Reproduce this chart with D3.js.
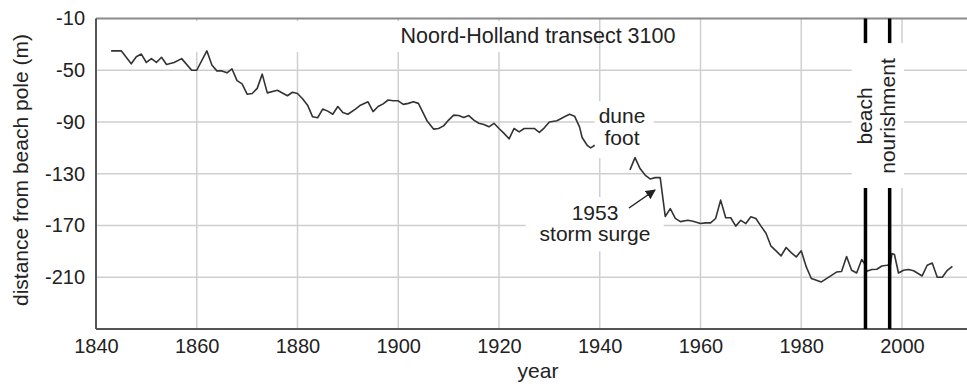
<!DOCTYPE html>
<html>
<head>
<meta charset="utf-8">
<script src="https://cdn.jsdelivr.net/npm/d3@7"></script>
<style>
  html, body { margin: 0; padding: 0; background: #fff; }
  svg text { font-family: "Liberation Sans", Arial, sans-serif; fill: #222; }
</style>
</head>
<body>
<svg id="chart" width="967" height="387"></svg>
<script>
// Dune-foot position along transect 3100, Noord-Holland (m from beach pole)
const years = [
  1843, 1845, 1847, 1848, 1849, 1850, 1851, 1852, 1853, 1854, 1855.5, 1857, 1859, 1860,
  1862, 1863, 1864, 1865, 1866, 1867, 1868, 1869, 1870, 1871, 1872, 1873, 1874, 1876,
  1878, 1879, 1880, 1881, 1882, 1883, 1884, 1885, 1886, 1887, 1888, 1889, 1890, 1891.5,
  1892.5, 1894, 1895, 1896, 1897, 1898, 1899, 1900, 1901, 1902, 1903, 1904, 1905.7, 1907,
  1908, 1909, 1910, 1911, 1912, 1913, 1914, 1915, 1916, 1917, 1918, 1919, 1920, 1921,
  1922, 1923, 1924, 1925, 1926, 1927, 1928, 1929, 1930, 1931.5, 1933, 1934, 1935, 1936,
  1936.5, 1937.5, 1938.2, 1939,
  1942,
  1946, 1947, 1948, 1949, 1950, 1951, 1952, 1953, 1954, 1955, 1956, 1957.5, 1958.5, 1960,
  1961, 1962, 1963, 1964, 1965, 1966, 1967, 1968, 1969, 1970, 1971, 1972, 1973, 1974,
  1975, 1976, 1977, 1978, 1979, 1980, 1981, 1982, 1983, 1984, 1985, 1986, 1987, 1988,
  1989, 1990, 1991, 1992, 1992.5, 1993, 1994, 1995, 1996, 1997, 1997.7, 1998, 1998.5, 1999.3,
  2000.3, 2001.3, 2002.3, 2004, 2005, 2006, 2007, 2008, 2009, 2010
];
const distance = [
  -35, -35, -45, -39.5, -37.5, -44, -41, -44, -40, -45.5, -44, -41, -50, -50,
  -35, -46, -50.5, -50.5, -52, -49, -58, -60.5, -68.5, -68, -64, -53, -67.5, -65.5,
  -69.7, -67, -68, -72, -77, -86, -86.7, -80, -81.6, -84, -78, -82.6, -84, -80,
  -77, -74.4, -82, -78, -76, -73, -73.6, -73.6, -76.4, -75.6, -74.4, -75.6, -89, -95.5,
  -95, -93, -88.5, -84.7, -85, -86.5, -85, -88.5, -91, -92, -93.7, -91, -95, -98.8,
  -103, -95, -97.6, -95, -95, -95, -98, -94.5, -90, -89, -86, -84, -85.5, -94,
  -102, -108, -110, -108,
  null,
  -127, -117.5, -126, -131, -134, -133, -133, -163, -157, -164.5, -167, -166, -166.7, -168.5,
  -168, -168, -164.6, -150.4, -164, -164, -170.5, -166, -168.5, -163.3, -164.6, -170.5, -176, -186,
  -189.6, -193.5, -187, -191, -194.3, -189.6, -202, -211, -212.3, -213.6, -211, -208.5, -206, -205.5,
  -194, -204.6, -206.7, -196.3, -199, -205.4, -204, -203.8, -201.3, -200.7, -200.2, -191.7, -192.4, -206.7,
  -204.6, -204, -205, -209, -200.7, -199, -210, -210, -204.6, -201.5
];
const nourishmentYears = [1992.75, 1997.55];
const xTicks = [1840, 1860, 1880, 1900, 1920, 1940, 1960, 1980, 2000];
const yTicks = [-10, -50, -90, -130, -170, -210];

const W = 967, H = 387;
const plotLeft = 96, plotTop = 18.5, plotBottom = 329;

const x = d3.scaleLinear().domain([1840, 2000]).range([plotLeft, 902]);
const y = d3.scaleLinear().domain([-250, -10]).range([plotBottom, plotTop]);

const svg = d3.select("#chart");

// grid
const grid = svg.append("g").attr("stroke", "#cfcfcf").attr("stroke-width", 1.5);
grid.selectAll("line.h").data(yTicks.slice(1)).join("line")
  .attr("x1", plotLeft).attr("x2", W).attr("y1", d => y(d)).attr("y2", d => y(d));
grid.selectAll("line.v").data(xTicks.slice(1)).join("line")
  .attr("x1", d => x(d)).attr("x2", d => x(d)).attr("y1", plotTop).attr("y2", plotBottom);

// white panels behind the annotations
const panels = [
  { x0: 1858.8, x1: 1921.3, y0: -12, y1: -36 },   // title
  { x0: 1939.0, x1: 1950.7, y0: -74, y1: -118 },  // dune foot
  { x0: 1925.3, x1: 1952.7, y0: -148, y1: -190 }, // 1953 storm surge
  { x0: 1990.0, x1: 2000.4, y0: -29, y1: -141 }   // beach nourishment
];
svg.append("g").selectAll("rect").data(panels).join("rect")
  .attr("x", d => x(d.x0)).attr("width", d => x(d.x1) - x(d.x0))
  .attr("y", d => y(d.y0)).attr("height", d => y(d.y1) - y(d.y0))
  .attr("fill", "#fff");

// top border
svg.append("line").attr("x1", plotLeft).attr("x2", W).attr("y1", plotTop).attr("y2", plotTop)
  .attr("stroke", "#8a8a8a").attr("stroke-width", 2);

// axes
const xAxis = svg.append("g").attr("transform", `translate(0,${plotBottom})`)
  .call(d3.axisBottom(x).tickValues(xTicks).tickSize(0).tickPadding(10).tickFormat(d3.format("d")));
xAxis.select(".domain").attr("stroke", "#555").attr("stroke-width", 2)
  .attr("d", `M${plotLeft},0H${W}`);
xAxis.selectAll("text").attr("font-size", 20).attr("fill", "#222")
  .attr("font-family", "Liberation Sans, Arial, sans-serif");

const yAxis = svg.append("g").attr("transform", `translate(${plotLeft},0)`)
  .call(d3.axisLeft(y).tickValues(yTicks).tickSize(0).tickPadding(11).tickFormat(d => String(d)));
yAxis.select(".domain").attr("stroke", "#555").attr("stroke-width", 2)
  .attr("d", `M0,${plotTop}V${plotBottom}`);
yAxis.selectAll("text").attr("font-size", 20).attr("fill", "#222")
  .attr("font-family", "Liberation Sans, Arial, sans-serif");

// dune foot series
const line = d3.line().defined(d => d[1] !== null).x(d => x(d[0])).y(d => y(d[1]));
svg.append("path").datum(years.map((yr, i) => [yr, distance[i]]))
  .attr("d", line).attr("fill", "none").attr("stroke", "#333").attr("stroke-width", 1.6)
  .attr("stroke-linejoin", "round");

// beach nourishment markers (broken around the label)
const nour = svg.append("g").attr("stroke", "#000").attr("stroke-width", 3.5);
nourishmentYears.forEach(yr => {
  nour.append("line").attr("x1", x(yr)).attr("x2", x(yr)).attr("y1", plotTop).attr("y2", y(-29));
  nour.append("line").attr("x1", x(yr)).attr("x2", x(yr)).attr("y1", y(-141)).attr("y2", plotBottom);
});

// labels
svg.append("text").attr("x", 538).attr("y", 43).attr("text-anchor", "middle")
  .attr("font-size", 21.5).text("Noord-Holland transect 3100");

const dune = svg.append("text").attr("text-anchor", "middle").attr("font-size", 21);
dune.append("tspan").attr("x", 622).attr("y", 123).text("dune");
dune.append("tspan").attr("x", 622).attr("y", 145).text("foot");

const surge = svg.append("text").attr("text-anchor", "middle").attr("font-size", 21);
surge.append("tspan").attr("x", 595).attr("y", 220).text("1953");
surge.append("tspan").attr("x", 595).attr("y", 241).text("storm surge");

svg.append("text").attr("transform", "translate(871.5,116) rotate(-90)")
  .attr("text-anchor", "middle").attr("font-size", 21).text("beach");
svg.append("text").attr("transform", "translate(895,116) rotate(-90)")
  .attr("text-anchor", "middle").attr("font-size", 21).text("nourishment");

svg.append("text").attr("transform", "translate(28,170) rotate(-90)")
  .attr("text-anchor", "middle").attr("font-size", 21).text("distance from beach pole (m)");
svg.append("text").attr("x", 538).attr("y", 378).attr("text-anchor", "middle")
  .attr("font-size", 21).text("year");

// arrow to the 1953 drop
svg.append("defs").append("marker").attr("id", "arrowhead")
  .attr("viewBox", "0 0 10 10").attr("refX", 9).attr("refY", 5)
  .attr("markerWidth", 10).attr("markerHeight", 10).attr("markerUnits", "userSpaceOnUse")
  .attr("orient", "auto")
  .append("path").attr("d", "M0,0L10,5L0,10Z").attr("fill", "#222");
svg.append("line").attr("x1", 629).attr("y1", 208).attr("x2", 655).attr("y2", 190)
  .attr("stroke", "#222").attr("stroke-width", 1.5).attr("marker-end", "url(#arrowhead)");
</script>
</body>
</html>
